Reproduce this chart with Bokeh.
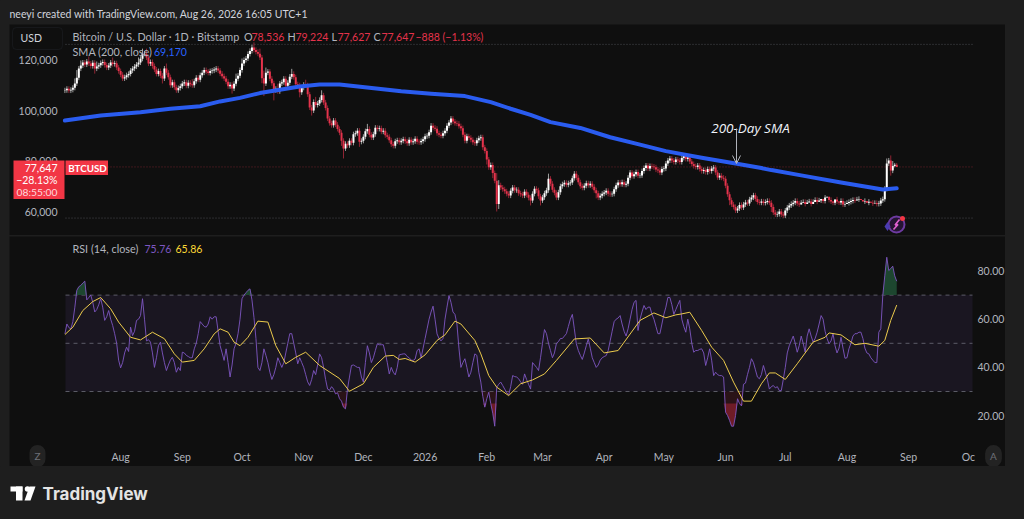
import numpy as np
from bokeh.plotting import figure
from bokeh.layouts import column
from bokeh.embed import file_html
from bokeh.resources import INLINE
from bokeh.models import (Range1d, LinearAxis, FixedTicker, NumeralTickFormatter, Label,
                          BoxAnnotation, Arrow, OpenHead)

# ---------- data (thousands of USD) ----------
close_k = [
108.0,108.6,107.9,108.2,109.0,110.7,113.0,116.6,117.8,119.0,
118.2,119.4,118.6,117.6,118.9,116.6,117.4,117.9,118.8,119.2,
118.0,117.0,117.8,119.0,118.4,118.7,117.0,115.6,114.2,112.7,
113.2,114.0,114.5,115.8,116.6,117.4,118.2,119.0,120.5,122.5,
122.5,121.0,118.6,119.2,117.6,116.2,114.5,115.6,113.8,112.7,
116.6,115.0,113.2,110.0,111.2,109.2,108.0,108.9,109.6,110.7,
111.2,109.8,111.0,110.4,110.0,111.6,113.0,112.2,114.0,115.0,
116.0,115.4,114.9,115.6,115.8,116.2,116.6,115.8,114.6,113.6,
112.7,111.4,109.6,110.2,108.7,110.6,112.6,113.8,116.0,118.6,
120.0,120.6,122.4,123.6,125.0,124.0,123.2,122.5,121.0,112.8,
110.7,115.0,115.4,112.6,110.8,108.0,108.6,107.6,110.7,111.2,
112.6,109.8,111.0,113.4,114.5,113.2,110.4,110.0,107.2,109.0,
110.2,110.0,106.4,101.2,100.0,103.4,102.2,102.8,104.2,106.0,
103.2,101.0,96.8,95.0,94.2,96.0,94.4,92.7,91.2,88.0,
85.0,86.8,86.2,88.0,87.2,90.6,91.0,92.0,87.6,88.0,
89.6,91.8,92.7,90.4,89.3,90.6,93.2,92.7,93.0,91.6,
92.0,90.2,89.6,88.2,86.6,86.0,87.8,88.2,87.4,88.0,
88.6,87.8,87.0,88.4,87.4,87.8,88.8,87.6,87.4,87.9,
88.6,89.8,90.0,91.4,94.0,93.2,92.8,91.0,90.4,90.0,
91.0,92.0,94.0,95.2,96.8,95.6,95.0,94.8,93.8,93.0,
90.4,88.0,89.8,89.2,88.4,87.4,87.0,88.2,89.0,89.4,
85.4,84.0,80.6,77.5,78.4,75.2,72.2,63.0,70.4,69.5,
68.8,68.0,67.0,66.3,68.2,69.5,68.4,68.6,67.2,66.8,
66.3,67.8,66.6,65.4,64.4,67.0,69.0,68.4,66.0,64.4,
65.6,67.2,68.4,73.0,71.0,68.6,67.4,65.5,67.6,70.0,
70.8,71.4,70.6,71.2,71.5,73.2,75.0,73.4,71.6,70.0,
69.4,70.2,71.2,70.4,71.0,69.8,68.4,67.2,65.5,66.2,
67.0,67.5,68.2,67.0,66.8,67.0,68.8,70.4,71.5,70.8,
71.6,70.6,71.0,73.4,75.4,74.0,74.8,75.6,74.2,74.3,
76.0,77.2,78.2,77.0,78.0,77.8,77.5,76.6,76.2,75.4,
76.8,77.0,79.0,80.2,81.0,80.2,79.6,80.6,80.2,79.6,
81.2,82.0,80.8,81.4,79.8,78.8,78.0,77.6,78.2,76.8,
76.0,76.4,75.6,76.8,76.0,77.0,77.4,75.4,73.5,74.2,
73.4,73.0,70.2,66.8,64.5,62.8,61.8,60.4,61.2,62.6,
61.6,62.8,63.6,63.2,64.8,65.5,66.4,65.0,63.8,63.5,
64.0,63.4,63.8,64.2,63.5,61.8,59.6,58.8,59.0,60.0,
58.8,58.4,60.4,61.6,62.4,63.0,63.5,64.2,63.2,62.8,
63.5,63.8,63.0,63.6,64.0,63.0,63.8,64.6,63.9,64.4,
65.0,64.2,65.5,65.8,64.6,64.0,63.5,64.8,64.0,63.6,
64.2,62.8,63.0,63.4,63.8,64.2,64.6,64.4,64.8,65.0,
64.6,64.0,64.2,63.5,63.9,63.5,63.2,63.4,63.0,63.2,
64.4,64.9,69.0,79.0,80.2,76.2,78.0,78.536,77.647]
upper_wick_k = [
1,1,1,1,1,2,3,1,2,1,1,1,2,1,1,1,2,1,1,1,1,1,1,1,2,1,1,1,1,1,1,1,1,1,1,1,1,2,1,2,
1,2,1,1,1,1,1,1,1,1,1,2,1,1,1,1,1,1,1,1,1,1,1,1,2,1,1,1,1,1,1,1,1,1,1,1,1,1,1,1,
1,1,1,1,1,1,2,1,1,2,1,1,1,1,1,2,1,1,2,1,3,2,1,1,1,1,1,2,1,1,1,1,1,1,2,1,1,1,1,1,
1,2,1,1,1,1,2,1,1,2,1,1,1,1,1,1,1,1,1,1,1,1,1,1,1,1,1,1,1,1,1,1,2,1,1,1,1,1,1,1,
1,1,1,1,1,1,1,1,1,1,1,1,1,1,1,1,1,1,1,1,1,1,1,1,1,1,1,1,1,1,1,1,1,1,1,1,1,1,1,1,
1,1,1,1,1,1,1,1,1,1,1,1,1,1,1,1,1,3,2,1,1,1,1,1,1,1,1,1,1,1,1,1,1,1,1,1,1,1,1,1,
1,1,1,2,1,1,1,1,1,1,1,1,1,1,1,1,1,1,1,1,1,1,1,1,1,1,1,1,1,1,1,1,1,1,1,1,1,1,1,1,
1,1,1,1,1,1,1,1,1,1,1,1,1,1,1,1,1,1,1,1,1,1,1,1,1,1,1,1,1,1,1,1,1,1,1,1,1,1,1,1,
1,1,1,1,1,1,1,1,1,1,1,1,1,1,1,1,1,1,1,1,1,1,1,1,1,1,1,1,1,1,1,1,1,1,1,1,1,1,1,1,
1,1,1,1,1,1,1,1,1,1,1,1,1,1,1,1,1,1,1,1,0,0,1,0,0,1,0,0,1,0,1,1,1,1,1,1,1,1,1,1,
0,0,1,0,1,0,1,1,1,1,1,1,1,2,1,2,2,0.7,0.7]
lower_wick_k = [
1,1,1,1,1,1,1,1,1,1,1,1,1,1,1,2,1,1,1,1,1,1,1,1,1,1,1,1,1,1,1,1,1,1,1,1,1,1,1,1,
1,1,1,1,1,1,1,1,1,2,1,1,1,1,1,1,1,1,1,1,1,1,1,1,1,1,1,1,1,1,1,1,1,1,1,1,1,1,1,1,
1,1,1,1,2,1,1,1,1,1,1,1,1,1,1,1,1,1,1,2,5,1,1,1,1,4,1,1,1,1,1,1,1,1,1,1,1,1,2,1,
1,1,1,1,2,1,1,1,1,1,1,1,1,1,1,1,1,1,1,2,4,1,1,1,1,1,1,1,2,1,1,1,1,1,1,1,1,1,1,1,
1,1,1,1,1,1,1,1,1,1,1,1,1,1,1,1,1,1,1,1,1,1,1,1,1,1,1,1,1,1,1,1,1,1,1,1,1,1,1,1,
1,1,1,1,1,1,1,1,1,1,1,1,2,1,1,2,1,3,2,1,1,1,1,1,1,1,1,1,1,1,1,1,1,1,2,1,1,1,1,2,
1,1,1,1,1,1,1,1,1,1,1,1,1,1,1,1,1,1,1,1,1,1,1,1,1,1,1,2,1,1,1,1,1,1,1,1,1,1,1,1,
1,1,1,1,1,1,1,1,1,1,1,1,1,1,1,1,1,1,1,1,1,1,1,1,1,1,1,1,1,1,1,1,1,1,1,1,1,1,1,1,
1,1,1,1,1,1,1,1,1,1,1,1,1,1,2,1,1,1,1,1,1,1,1,1,1,1,1,1,1,1,1,1,1,1,1,2,1,1,1,1,
1,1,1,1,1,1,1,1,1,1,0,0,1,0,0,1,0,0,1,0,1,1,1,0,1,1,1,1,1,1,1,1,1,0,1,1,1,1,0,1,
0,0,1,0,1,0,1,0,1,1,1,1,1,1,1,2,1,0.5,0.02]
sma_days = [0,18,38,53,68,78,88,98,108,118,128,138,153,169,184,201,214,224,234,244,259,274,289,302,320,337,350,355,370,390,405,411,418]
sma_k = [96.0,98.0,99.3,100.7,101.7,103.6,105.0,106.9,108.2,109.5,110.3,110.3,109.0,107.6,106.6,105.7,103.3,100.7,98.3,95.4,93.1,89.4,86.5,83.9,81.3,79.0,77.2,76.4,74.3,71.5,69.5,68.7,69.17]
rsi = [
53.9,58.0,56.5,56.0,59,65,72,73.5,74,75,
75.8,68,69,70,67,63,64,66,68.5,65,
59.5,61,63.6,60,57.4,54,50,43,39.8,42,
46,48.4,46.6,56.7,53.2,55,59.5,60,61.5,68.5,
60,51,51.5,50.5,46,40,44,49,50.5,46,
42,38.7,41,43,44.2,42,38,40,38.7,46.3,
46,45,44.5,44,44,47.7,50,54,59,58,
57,56.7,58,61,60,61,61,55,49,46,
42.9,47.7,42,36,41,47.7,50,54,60,68.5,
70,71,72,72.6,68,60.8,52,40,38.7,42,
47.7,45,42,38,35,37,40,44,42,40,
42,46,50,54,54,50,46,41.5,44,42,
40,37,34,32.5,35,38.7,37,41,45.6,44,
40,35,31,30.5,32,31,29,29.5,27,26,
23.5,22.8,31,36,40.8,41,40.5,40,40,36,
33.9,42,49,46,42,44,47,49.8,49.4,49.4,
49.4,46,42,37.3,40,38,36.9,40,45.2,45.4,
45.6,45.6,44.5,44,43,42.9,43.5,47,47.7,44,
48,52,56,60,63,65.4,60,53.9,52,51,
52,60,65,69.8,67,63,62,58,48,40,
42,43.6,40,36,38,42,45.6,45,38,33.9,
28,23.5,27,29.7,25,21,15.6,31.8,33,33.9,
32.5,31,29.5,28.6,32,36.6,36.2,36,35.3,34,
33,37.3,35,33,31,42,41,40,38.7,44,
50,55.7,54,50,47,44,46,50,50.7,52,
52,53,54,57,60,62,56,49.8,47,45,
43.3,46,49,51.8,48,44,42,40,41,43,
44,44.5,44.9,47,51,55,59,60,60.5,61.5,
58,55,53,56,60,64,67,67.8,55.3,60,
63,65.7,64,65,65,62,60,57,54,54,
58,62,65,69,69,66,62,64,66,67.8,
60,57,54.6,60,56,50,46.3,47,47,47.5,
47.7,46,40.8,44,47.7,43,36.6,38,37,36.6,
36.6,36,21.4,20,18,15.6,15.6,20,27,25,
24,33,33.5,37,40,43.6,42,39,36,35.3,
37,40.8,38,35,31,32,32.5,31.5,32,30.4,
30.4,35,40,46,49,51,53,50,46.3,49,
53,50,46.3,53,56,53,50.5,52,54.6,58,
61.5,60,55,52,49.8,51,54,49,46,48,
52.5,48,43.8,44,47.7,50,53,54,54,54.6,
54.6,52,48,46,45.6,44,43,42,42,54.6,
56,69.8,78,85.7,80.2,81,82,78,75.76]
ma_days = [0,4,9,14,18,23,27,33,38,44,50,55,59,65,70,75,78,82,85,88,92,97,102,106,111,116,121,128,138,143,150,155,161,165,168,171,176,181,187,191,196,199,206,209,213,217,223,229,235,241,247,256,264,271,278,289,296,302,307,310,314,320,325,331,336,341,345,350,354,357,362,368,376,382,384,390,397,402,409,412,415,418]
ma = [53.6,56.7,63.6,67.3,69,64.3,58.8,52.5,51.4,54.6,51.9,45.6,42.2,42.9,47.7,53.9,56,54.6,50.5,49,52.5,59.2,58.8,49,41.5,44.2,46.3,40.8,35.4,30.1,33.2,40,44.7,45,43.3,43.7,42.2,45.2,51.2,53.5,59.2,58,51.2,45.6,36.6,31.8,28.3,33.2,34.8,37.3,42.9,51.8,52.2,46,47,59.5,62.6,60.6,61.8,62.2,62.9,55.3,48.4,42.9,33.9,26,26,33.2,37.7,37.7,35,41.5,50.5,52.5,54.3,53.5,49.4,50,48.8,51.2,59.5,65.86]
month_labels = ["Aug","Sep","Oct","Nov","Dec","2026","Feb","Mar","Apr","May","Jun","Jul","Aug","Sep","Oc"]
month_starts = ["2025-08-01","2025-09-01","2025-10-01","2025-11-01","2025-12-01","2026-01-01","2026-02-01","2026-03-01","2026-04-01","2026-05-01","2026-06-01","2026-07-01","2026-08-01","2026-09-01","2026-10-01"]
price_ticks = [60000,80000,100000,120000]
rsi_ticks = [20,40,60,80]
last_price, range_high, range_low = 77647, 126200, 57400

# ---------- scales ----------
DAY = 86400000.0
first = np.datetime64("2025-07-04","ms").astype(float)
n = len(close_k)
x = first + DAY*np.arange(n)
PXD = 1.99
x0 = first + 0.3*DAY
def xpage(px): return x0 + (px-65)/PXD*DAY
def pprice(py): return (120 - (py-59.5)/2.525)*1000
def prsi(py): return 80 - (py-270.5)/2.41
x_range = Range1d(xpage(9), xpage(1005))
tick_ms = [np.datetime64(d,"ms").astype(float) for d in month_starts]
XL, XR = xpage(65), xpage(972)

BG, OUT = "#0f0f0f", "#1e1e1e"
GR, RD, TXT = "#ffffff", "#e5334c", "#b2b5be"
FONT = "Lato"

def base(height):
    f = figure(width=996, height=height, x_range=x_range, output_backend="svg", toolbar_location=None,
               min_border=0, background_fill_color=BG, border_fill_color=BG, outline_line_color=None,
               x_axis_location=None, y_axis_location=None, margin=(0,0,0,9))
    f.grid.visible = False
    return f

def lab(f, ox, oy, px, py, text, color=TXT, size=12, align="left", style="normal", **kw):
    f.add_layout(Label(x=px-ox, y=py-oy, x_units="canvas", y_units="canvas", text=text, text_color=color,
                       text_font=FONT, text_font_size=f"{size}px", text_align=align, text_baseline="middle",
                       text_font_style=style, **kw))

def style_axis(a, standoff, size="10.5px"):
    a.axis_line_color = None; a.major_tick_line_color = None; a.minor_tick_line_color = None
    a.major_tick_out = 0; a.major_tick_in = 0
    a.major_label_text_color = TXT; a.major_label_text_font = FONT; a.major_label_text_font_size = size
    a.major_label_standoff = standoff

# ---------- header ----------
hd = figure(width=1005, height=24, x_range=(0,1005), y_range=(24,0), output_backend="svg", toolbar_location=None,
            min_border=0, background_fill_color=OUT, border_fill_color=OUT, outline_line_color=None,
            x_axis_location=None, y_axis_location=None)
hd.grid.visible = False
lab(hd, 0, 0, 9, 13, "neeyi created with TradingView.com, Aug 26, 2026 16:05 UTC+1", "#d1d4dc", 10.5)

# ---------- price pane ----------
P_OX, P_OY = 9, 24
pr = base(211)
pr.y_range = Range1d(pprice(235), pprice(24))
ax = LinearAxis(ticker=FixedTicker(ticks=price_ticks), formatter=NumeralTickFormatter(format="0,0"), fixed_location=XL)
style_axis(ax, 8)
pr.add_layout(ax, "left")

c = np.array(close_k)*1000
o = np.concatenate(([107900.0], c[:-1]))
hi = np.maximum(o,c) + np.array(upper_wick_k)*1000
lo = np.minimum(o,c) - np.array(lower_wick_k)*1000
up = c >= o
pr.segment([XL,XL],[range_high,range_low],[XR,XR],[range_high,range_low], line_color="#4a4c52", line_dash="1 2", line_width=1)
pr.segment([XL],[last_price],[XR],[last_price], line_color=RD, line_alpha=0.45, line_dash="1 2", line_width=1)
for mask, col in ((up, GR), (~up, RD)):
    pr.segment(x[mask], lo[mask], x[mask], hi[mask], line_color=col, line_width=0.8, line_alpha=0.75)
    pr.vbar(x[mask], top=np.maximum(o,c)[mask], bottom=np.minimum(o,c)[mask], width=1.0*DAY, fill_color=col, line_color=None)
sma_x = first + DAY*np.array(sma_days)
pr.line(sma_x, np.array(sma_k)*1000, line_color="#2a5cf0", line_width=4, line_cap="round", line_join="round")

# annotation
pr.add_layout(Label(x=xpage(750), y=pprice(127), text="200-Day SMA", text_color="#f0f3fa", text_font="Open Sans",
                    text_font_size="13.5px", text_font_style="italic", text_align="center", text_baseline="middle"))
pr.add_layout(Arrow(end=OpenHead(size=8, line_color="#b0b3ba", line_width=1),
                    x_start=xpage(736), y_start=pprice(128), x_end=xpage(736), y_end=pprice(163),
                    line_color="#b0b3ba", line_width=1))

# logo-like icon
pr.scatter([xpage(896)], [pprice(224)], size=16, marker="circle", fill_color="#251433", line_color="#6d3aa0", line_width=2)
pr.scatter([xpage(887)], [pprice(226)], size=9, marker="diamond", fill_color="#4b3bb0", line_color=None)
pr.scatter([xpage(902)], [pprice(218)], size=5, marker="circle", fill_color="#f23645", line_color=None)
pr.line([xpage(899),xpage(894.5),xpage(897.5),xpage(893)], [pprice(219),pprice(224.5),pprice(224),pprice(229)], line_color="#e060d0", line_width=1.6)

# labels
pr.add_layout(BoxAnnotation(left=xpage(12), right=xpage(62), top=pprice(27), bottom=pprice(49), fill_alpha=0,
                            line_color="#2a2e39", line_width=1, border_radius=4))
lab(pr, P_OX, P_OY, 20, 37.5, "USD", "#d1d4dc", 10.5)
for px, s, col, sz in [(72,"Bitcoin / U.S. Dollar · 1D · Bitstamp",TXT,10.8),(243.5,"O",TXT,10.8),(251,"78,536",RD,10.5),(287,"H",TXT,10.8),(295,"79,224",RD,10.5),
                   (331,"L",TXT,10.8),(337,"77,627",RD,10.5),(373,"C",TXT,10.8),(381,"77,647",RD,10.5),(415,"−888 (−1.13%)",RD,10.5)]:
    lab(pr, P_OX, P_OY, px, 36, s, col, sz)
lab(pr, P_OX, P_OY, 72, 51, "SMA (200, close)", TXT, 10.8)
lab(pr, P_OX, P_OY, 153.5, 51, "69,170", "#2962ff", 10.5)
pr.add_layout(BoxAnnotation(left=xpage(13), right=xpage(64), top=pprice(160), bottom=pprice(198.5), fill_color="#f23645", fill_alpha=1, line_color=None))
pr.add_layout(BoxAnnotation(left=xpage(65), right=xpage(107.5), top=pprice(160), bottom=pprice(174.5), fill_color="#f23645", fill_alpha=1, line_color=None))
lab(pr, P_OX, P_OY, 57, 167, "77,647", "#ffffff", 10.5, "right")
lab(pr, P_OX, P_OY, 57, 179, "−28.13%", "#ffffff", 10.5, "right")
lab(pr, P_OX, P_OY, 57, 191, "08:55:00", "#ffd9dd", 10.3, "right")
lab(pr, P_OX, P_OY, 87, 167, "BTCUSD", "#ffffff", 9.8, "center", "bold")

# ---------- RSI pane ----------
R_OX, R_OY = 9, 236
rs = base(230)
rs.margin = (1,0,0,9)
rs.y_range = Range1d(prsi(466), prsi(236))
rs.add_layout(BoxAnnotation(left=XL, right=XR, bottom=30, top=70, fill_color="#7e57c2", fill_alpha=0.1, line_color=None, level="underlay"))
rs.segment([XL]*3, [70,50,30], [XR]*3, [70,50,30], line_color="#787b86", line_alpha=0.7, line_dash="4 4", line_width=1)
r = np.array(rsi)
xr = x[:len(r)]
rs.varea(xr, np.maximum(r,70), 70, fill_color="#1f4d33", fill_alpha=0.9)
rs.varea(xr, np.minimum(r,30), 30, fill_color="#7a1f2e", fill_alpha=0.25)
rs.varea(xr, np.minimum(r,25), 25, fill_color="#a82534", fill_alpha=0.55)
rs.line(xr, r, line_color="#7e57c2", line_width=1, line_alpha=0.9)
rs.line(first + DAY*np.array(ma_days), ma, line_color="#eccb4c", line_width=1, line_join="round")
ay = LinearAxis(ticker=FixedTicker(ticks=rsi_ticks), formatter=NumeralTickFormatter(format="0.00"), fixed_location=XR)
style_axis(ay, 5)
rs.add_layout(ay, "right")
axx = LinearAxis(ticker=FixedTicker(ticks=tick_ms), major_label_overrides={t: l for t, l in zip(tick_ms, month_labels)}, fixed_location=prsi(447))
style_axis(axx, 3)
rs.add_layout(axx, "below")
lab(rs, R_OX, R_OY, 72, 248, "RSI (14, close)", TXT, 10.8)
lab(rs, R_OX, R_OY, 144, 248, "75.76", "#7e57c2", 10.5)
lab(rs, R_OX, R_OY, 175, 248, "65.86", "#fdd835", 10.5)
for px, s in ((37,"Z"),(993,"A")):
    rs.add_layout(Label(x=px-R_OX, y=455.5-R_OY, x_units="canvas", y_units="canvas", text=s, text_color="#6e7077", text_font=FONT,
                        text_font_size="10px", text_align="center", text_baseline="middle",
                        background_fill_color="#232323", padding=5, border_radius=9))

# ---------- footer ----------
ft = figure(width=1005, height=53, x_range=(0,1005), y_range=(519,466), output_backend="svg", toolbar_location=None,
            min_border=0, background_fill_color=OUT, border_fill_color=OUT, outline_line_color=None,
            x_axis_location=None, y_axis_location=None)
ft.grid.visible = False
ft.quad(left=[10,15.5], right=[22,22], top=[486,486], bottom=[491,500], fill_color="#ffffff", line_color=None)
ft.scatter([27],[488.5], size=5.5, marker="circle", fill_color="#ffffff", line_color=None)
ft.patch([29,35,30,24],[486,486,500,500], fill_color="#ffffff", line_color=None)
ft.text([42],[493.5], text=["TradingView"], text_color="#e4e4e4", text_font={"value":"Inter"}, text_font_size="17px",
        text_font_style="bold", text_baseline="middle")

TPL = """{% block preamble %}<style>html,body{background:#1e1e1e;overflow:hidden}</style>{% endblock %}
"""
page = column(hd, pr, rs, ft, spacing=0)
open("out.html", "w").write(file_html(page, INLINE, template=TPL))
